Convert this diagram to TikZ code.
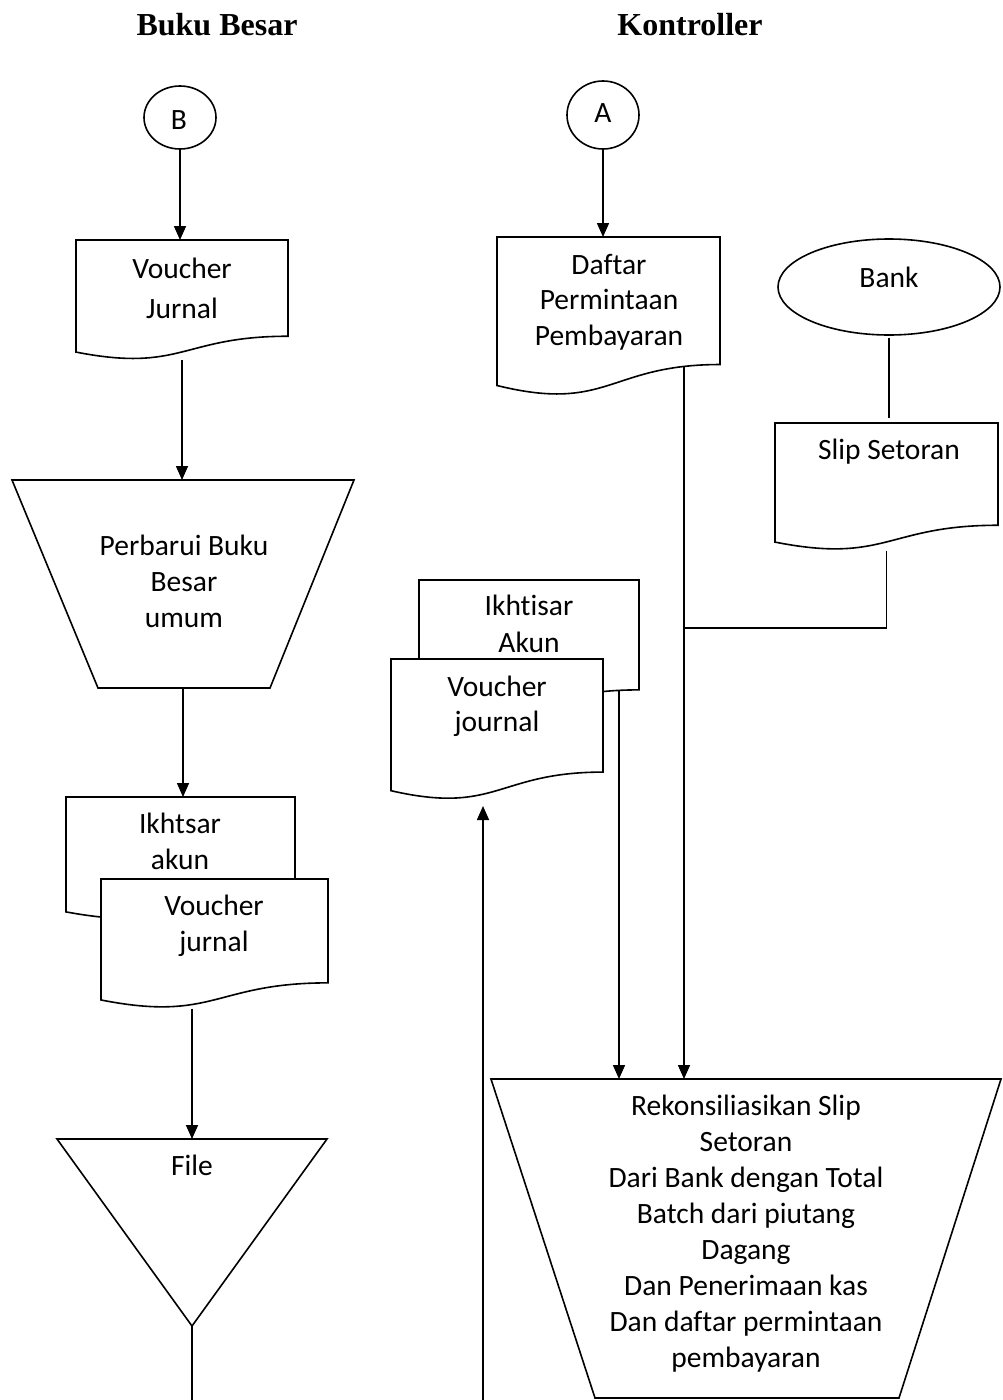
\documentclass[tikz,border=0pt]{standalone}
\usepackage{fontspec}
\setmainfont{Carlito}[Ligatures=NoCommon]
\newfontfamily\headfont{Liberation Serif}
\usetikzlibrary{arrows.meta,shapes.geometric,backgrounds,calc}

% Flowchart "document" symbol: flat top, straight sides, wavy bottom edge
\makeatletter
\pgfdeclareshape{document}{
  \inheritsavedanchors[from=rectangle]
  \inheritanchorborder[from=rectangle]
  \inheritanchor[from=rectangle]{center}
  \inheritanchor[from=rectangle]{north}
  \inheritanchor[from=rectangle]{south}
  \inheritanchor[from=rectangle]{east}
  \inheritanchor[from=rectangle]{west}
  \inheritanchor[from=rectangle]{north east}
  \inheritanchor[from=rectangle]{north west}
  \inheritanchor[from=rectangle]{south east}
  \inheritanchor[from=rectangle]{south west}
  \backgroundpath{%
    \southwest \pgf@xa=\pgf@x \pgf@ya=\pgf@y
    \northeast \pgf@xb=\pgf@x \pgf@yb=\pgf@y
    \pgf@xc=.5\pgf@xa \advance\pgf@xc by .5\pgf@xb
    \pgf@yc=\pgf@yb \advance\pgf@yc by -\pgf@ya
    \edef\docL{\the\pgf@xa}\edef\docR{\the\pgf@xb}%
    \edef\docM{\the\pgf@xc}\edef\docT{\the\pgf@yb}%
    \pgf@y=\pgf@yb \advance\pgf@y by -0.802\pgf@yc \edef\docYR{\the\pgf@y}%
    \pgf@y=\pgf@yb \advance\pgf@y by -1.107\pgf@yc \edef\docYC{\the\pgf@y}%
    \pgf@y=\pgf@yb \advance\pgf@y by -0.934\pgf@yc \edef\docYL{\the\pgf@y}%
    \pgfpathmoveto{\pgfqpoint{\docL}{\docT}}%
    \pgfpathlineto{\pgfqpoint{\docR}{\docT}}%
    \pgfpathlineto{\pgfqpoint{\docR}{\docYR}}%
    \pgfpathcurveto{\pgfqpoint{\docM}{\docYR}}{\pgfqpoint{\docM}{\docYC}}{\pgfqpoint{\docL}{\docYL}}%
    \pgfpathclose
  }
}
\makeatother

\tikzset{
  line/.style={line width=1.6pt, black},
  flow/.style={line, -{Triangle[length=14pt,width=12pt]}},
  docbox/.style 2 args={shape=document, draw, fill=white, line width=1.6pt,
    inner sep=0, outer sep=0, minimum width=#1, minimum height=#2, anchor=north west},
  areabox/.style 2 args={rectangle, inner sep=0, outer sep=0,
    minimum width=#1, minimum height=#2, anchor=north west},
  oval/.style 2 args={ellipse, draw, line width=1.6pt, inner sep=0, outer sep=0,
    minimum width=#1, minimum height=#2},
  txt/.style={font=\fontsize{29.5}{36}\selectfont, align=center, inner sep=0},
  head/.style={font=\headfont\bfseries\fontsize{32}{36}\selectfont, inner sep=0, anchor=base},
}

\begin{document}
\begin{tikzpicture}[x=1pt,y=-1pt]
\useasboundingbox (0,0) rectangle (1002,1400);

% column headings
\node[head] (h1) at (217,35) {Buku Besar};
\node[head] (h2) at (690,35) {Kontroller};

% ---- Buku Besar ----
\node[oval={72}{63}] (cB) at (180,117.5) {};
\node[txt] (cB-t) at (179,122) {\strut B};

\node[docbox={212}{120}] (vj) at (76,240) {};
\node[txt, font=\fontsize{29.5}{40}\selectfont] (vj-t) at (182,290) {\strut Voucher\\\strut Jurnal};

\node[areabox={342}{208}] (perb) at (12,480) {};
\draw[line] (perb.north west) -- (perb.north east) -- ([xshift=-84pt]perb.south east)
  -- ([xshift=86pt]perb.south west) -- cycle;
\node[txt] (perb-t) at (184,584) {\strut Perbarui Buku\\\strut Besar\\\strut umum};

\node[docbox={229}{123}] (ika) at (66,797) {};
\node[txt] (ika-t) at (180,844) {\strut Ikhtsar\\\strut akun};
\node[docbox={227}{129.5}] (vjl) at (101,879) {};
\node[txt] (vjl-t) at (214,926) {\strut Voucher\\\strut jurnal};

\node[areabox={270}{187}] (file) at (57,1139) {};
\draw[line, fill=white] (file.north west) -- (file.north east) -- (file.south) -- cycle;
\node[txt] (file-t) at (192,1168) {\strut File};

% ---- Kontroller ----
\node[oval={72}{68}] (cA) at (603,115) {};
\node[txt] (cA-t) at (603,115) {\strut A};

\node[docbox={223}{159}] (daftar) at (497,237) {};
\node[txt, font=\fontsize{29.5}{35.5}\selectfont] (daftar-t) at (609,302.5)
  {\strut Daftar\\\strut Permintaan\\\strut Pembayaran};

\node[oval={222}{96}, fill=white] (bank) at (889,287) {};
\node[txt] (bank-t) at (889,280) {\strut Bank};

\node[docbox={223}{127.5}] (slip) at (775,423) {};
\node[txt] (slip-t) at (889,452) {\strut Slip Setoran};

\node[docbox={220}{137}] (ikr) at (419,580) {};
\node[txt, font=\fontsize{29.5}{37}\selectfont] (ikr-t) at (529,626.5) {\strut Ikhtisar\\\strut Akun};
\node[docbox={212}{141}] (vjr) at (391,659) {};
\node[txt, font=\fontsize{29.5}{35}\selectfont] (vjr-t) at (497,706.5) {\strut Voucher\\\strut journal};

\node[areabox={510}{319}] (rekon) at (491,1079) {};
\draw[line] (rekon.north west) -- (rekon.north east) -- ([xshift=-102pt]rekon.south east)
  -- ([xshift=104pt]rekon.south west) -- cycle;
\node[txt] (rekon-t) at (746,1234) {\strut Rekonsiliasikan Slip\\\strut Setoran\\
  \strut Dari Bank dengan Total\\\strut Batch dari piutang\\\strut Dagang\\
  \strut Dan Penerimaan kas\\\strut Dan daftar permintaan\\\strut pembayaran};

% connector end points
\coordinate (jn) at (684,628);
\coordinate (fileout) at (192,1400);
\coordinate (upin) at (483,1400);

% connectors, drawn beneath the symbols
\begin{pgfonlayer}{background}
\draw[flow] (cB.south) -- (cB.south |- vj.north);
\draw[flow] (vj.south) -- (vj.south |- perb.north);
\draw[flow] (perb.south) -- (perb.south |- ika.north);
\draw[flow] (file.north |- vjl.south) -- (file.north);
\draw[line] (file.south) -- (fileout);

\draw[flow] (cA.south) -- (cA.south |- daftar.north);
\draw[line, shorten <=3pt, shorten >=5pt] (bank.south) -- (bank.south |- slip.north);
\draw[line] (slip.south) |- (jn);
\draw[flow] (daftar.center -| jn) -- (jn |- rekon.north);
\draw[flow] ([xshift=-20pt]ikr.east) -- ([xshift=-20pt]ikr.east |- rekon.north);
\draw[flow, shorten >=6pt] (upin) -- (upin |- vjr.south);
\end{pgfonlayer}
\end{tikzpicture}
\end{document}
